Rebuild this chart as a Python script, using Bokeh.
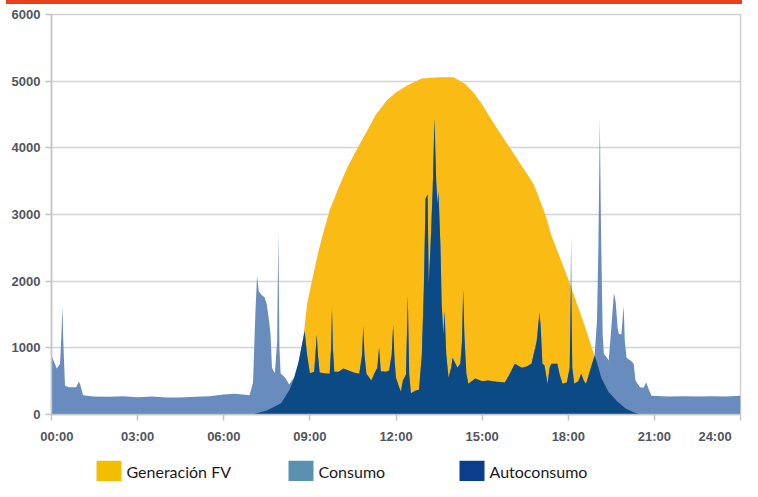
from bokeh.plotting import figure
from bokeh.models import FixedTicker, Div
from bokeh.core.properties import value
from bokeh.layouts import column
from bokeh.embed import file_html
from bokeh.resources import INLINE

# ---------------- data ----------------
hour_ticks = [0, 3, 6, 9, 12, 15, 18, 21, 24]
hour_labels = ["00:00", "03:00", "06:00", "09:00", "12:00", "15:00", "18:00", "21:00", "24:00"]
power_ticks = [0, 1000, 2000, 3000, 4000, 5000, 6000]
series_names = ["Generación FV", "Consumo", "Autoconsumo"]

# Generación FV (W) - hours / values
gen_t = [7.0, 7.5, 8.0, 8.3, 8.5, 8.65, 8.8, 8.9, 9.07, 9.3, 9.5, 9.7, 10.0, 10.3, 10.6,
         10.9, 11.3, 11.7, 12.0, 12.4, 12.9, 13.5, 14.0, 14.4, 14.7, 15.0, 15.5, 16.0,
         16.5, 16.8, 17.2, 17.4, 18.0, 18.5, 18.9, 19.15, 19.4, 19.7, 20.0, 20.3, 20.5]
gen_v = [0, 60, 170, 380, 600, 850, 1250, 1650, 2000, 2450, 2780, 3080, 3400, 3700, 3950,
         4180, 4500, 4720, 4830, 4940, 5040, 5060, 5060, 4960, 4830, 4650, 4300, 3980,
         3650, 3450, 3000, 2700, 2030, 1420, 900, 550, 340, 200, 90, 30, 0]

# Consumo (W)
cons_t = [0.0, 0.1, 0.18, 0.3, 0.35, 0.38, 0.41, 0.47, 0.6, 0.86, 0.95, 1.0, 1.1, 1.45,
          2.0, 2.5, 3.0, 3.5, 4.0, 4.5, 5.0, 5.5, 6.0, 6.4, 6.9, 7.02, 7.1, 7.16, 7.22,
          7.3, 7.42, 7.5, 7.58, 7.63, 7.68, 7.78, 7.86, 7.9, 7.94, 7.98, 8.14, 8.28, 8.45,
          8.6, 8.75, 8.82, 8.9, 9.0, 9.15, 9.21, 9.24, 9.28, 9.34, 9.5, 9.69, 9.74, 9.77,
          9.8, 9.85, 10.0, 10.17, 10.35, 10.52, 10.72, 10.82, 10.86, 10.9, 10.97, 11.14,
          11.25, 11.35, 11.41, 11.47, 11.65, 11.76, 11.85, 11.9, 11.95, 12.0, 12.1, 12.17,
          12.24, 12.35, 12.41, 12.46, 12.52, 12.69, 12.8, 12.9, 12.97, 13.03, 13.1, 13.14,
          13.2, 13.28, 13.34, 13.4, 13.45, 13.48, 13.55, 13.59, 13.65, 13.69, 13.75, 13.83,
          13.92, 13.97, 14.05, 14.14, 14.24, 14.3, 14.34, 14.38, 14.45, 14.52, 14.76, 15.0,
          15.2, 15.5, 15.79, 15.95, 16.14, 16.38, 16.55, 16.72, 16.9, 16.97, 17.0, 17.04,
          17.1, 17.17, 17.28, 17.35, 17.41, 17.62, 17.7, 17.8, 17.95, 18.05, 18.1, 18.14,
          18.21, 18.35, 18.45, 18.55, 18.62, 18.75, 18.83, 18.92, 19.0, 19.05, 19.1, 19.14,
          19.2, 19.24, 19.35, 19.41, 19.5, 19.59, 19.65, 19.72, 19.76, 19.85, 19.93, 19.97,
          20.03, 20.2, 20.28, 20.34, 20.5, 20.62, 20.72, 20.8, 20.9, 21.5, 22.0, 22.5, 23.0,
          23.5, 24.0]
cons_v = [880, 780, 690, 760, 1250, 1620, 1100, 430, 410, 410, 490, 450, 290, 270,
          265, 275, 260, 270, 255, 255, 265, 275, 300, 310, 290, 480, 1500, 2080, 1850,
          1800, 1760, 1650, 1400, 1200, 700, 620, 1100, 2720, 1000, 620, 550, 450, 560,
          780, 1100, 1260, 900, 620, 640, 1000, 1200, 900, 630, 620, 610, 1000, 1600,
          1000, 640, 640, 690, 660, 630, 610, 900, 1320, 900, 610, 510,
          620, 700, 1000, 650, 640, 660, 900, 1340, 800, 550, 420, 340,
          510, 600, 1780, 600, 320, 360, 370, 900, 1900, 3240, 3300, 1960,
          2500, 3400, 4440, 3500, 3150, 3350, 2500, 1660, 1200, 1550, 900, 550,
          700, 850, 780, 700, 760, 1100, 1880, 1200, 620, 460, 540, 500,
          510, 490, 480, 600, 760, 700, 720, 760, 1100, 1400, 1530, 1300,
          760, 740, 460, 700, 760, 760, 600, 460, 480, 700, 2680, 700,
          460, 500, 610, 500, 460, 650, 760, 900, 1400, 2500, 4440, 2800,
          1200, 910, 850, 810, 1300, 1820, 1700, 1300, 1210, 1200, 1630, 1100,
          850, 800, 760, 510, 410, 400, 480, 380, 280, 270, 275, 270, 275,
          270, 280]

# Autoconsumo (W)
auto_t = [7.0, 7.5, 8.0, 8.3, 8.45, 8.6, 8.75, 8.82, 8.9, 9.0, 9.15, 9.21, 9.24, 9.28,
          9.34, 9.5, 9.69, 9.74, 9.77, 9.8, 9.85, 10.0, 10.17, 10.35, 10.52, 10.72, 10.82,
          10.86, 10.9, 10.97, 11.14, 11.25, 11.35, 11.41, 11.47, 11.65, 11.76, 11.85, 11.9,
          11.95, 12.0, 12.1, 12.17, 12.24, 12.35, 12.41, 12.46, 12.52, 12.69, 12.8, 12.9,
          12.97, 13.03, 13.1, 13.14, 13.2, 13.28, 13.34, 13.4, 13.45, 13.48, 13.55, 13.59,
          13.65, 13.69, 13.75, 13.83, 13.92, 13.97, 14.05, 14.14, 14.24, 14.3, 14.34, 14.38,
          14.45, 14.52, 14.76, 15.0, 15.2, 15.5, 15.79, 15.95, 16.14, 16.38, 16.55, 16.72,
          16.9, 16.97, 17.0, 17.04, 17.1, 17.17, 17.28, 17.35, 17.41, 17.62, 17.7, 17.8,
          17.95, 18.05, 18.1, 18.14, 18.21, 18.35, 18.45, 18.55, 18.62, 18.75, 18.83, 18.92,
          19.0, 19.15, 19.4, 19.7, 20.0, 20.3, 20.5]
auto_v = [0, 60, 170, 380, 540, 770, 1100, 1250, 900, 620, 640, 1000, 1200, 900,
          630, 620, 610, 1000, 1600, 1000, 640, 640, 690, 660, 630, 610, 900,
          1320, 900, 610, 510, 620, 700, 1000, 650, 640, 660, 900, 1340,
          800, 550, 420, 340, 510, 600, 1780, 600, 320, 360, 370, 900,
          1900, 3240, 3300, 1960, 2500, 3400, 4440, 3500, 3150, 3350, 2500, 1660,
          1200, 1550, 900, 550, 700, 850, 780, 700, 760, 1100, 1880, 1200,
          620, 460, 540, 500, 510, 490, 480, 600, 760, 700, 720, 760,
          1100, 1400, 1530, 1300, 760, 740, 460, 700, 760, 760, 600, 460,
          480, 700, 1950, 700, 460, 500, 610, 500, 460, 650, 760, 880,
          780, 550, 340, 200, 90, 30, 0]

# ---------------- styling / layout ----------------
chart_colors = ["#FABB14", "#698CBE", "#0C4A86"]
legend_colors = ["#F2BE00", "#5A91AF", "#0A3E8A"]
accent_color = "#E8411C"
tick_font = "Liberation Sans"
tick_color = "#50565c"
W = 742
BORDER_L, BORDER_R = 51, 2
NBSP = "\u00a0"

# thin red band across the top
bar = Div(text="", width=W - 6, height=4, margin=(0, 0, 0, 6),
          styles={"background-color": accent_color})

# main chart
p = figure(width=W, height=456, x_range=(0, 24), y_range=(0, 6000),
           output_backend="svg", toolbar_location=None,
           min_border_left=BORDER_L, min_border_right=BORDER_R,
           min_border_top=10, min_border_bottom=46,
           background_fill_color="white", border_fill_color="white")

p.varea(x=gen_t, y1=0, y2=gen_v, fill_color=chart_colors[0])
p.varea(x=cons_t, y1=0, y2=cons_v, fill_color=chart_colors[1])
p.varea(x=auto_t, y1=0, y2=auto_v, fill_color=chart_colors[2])

p.xaxis.ticker = FixedTicker(ticks=hour_ticks)
overrides = {t: lab for t, lab in zip(hour_ticks, hour_labels)}
# first / last labels nudged inward (as in the original) so they stay inside
overrides[hour_ticks[0]] = NBSP * 3 + hour_labels[0]
overrides[hour_ticks[-1]] = hour_labels[-1] + NBSP * 3
p.xaxis.major_label_overrides = overrides
p.yaxis.ticker = FixedTicker(ticks=power_ticks)
for ax in (p.xaxis[0], p.yaxis[0]):
    ax.axis_line_color = "#c4c4c4"
    ax.axis_line_width = 1.5
    ax.major_tick_line_color = "#c4c4c4"
    ax.major_tick_line_width = 1.5
    ax.major_tick_out = 6
    ax.major_tick_in = 0
    ax.minor_tick_line_color = None
    ax.major_label_text_font = tick_font
    ax.major_label_text_font_style = "bold"
    ax.major_label_text_font_size = "13px"
    ax.major_label_text_color = tick_color
p.xaxis.major_label_standoff = 8
p.yaxis.major_label_standoff = 5

p.xgrid.visible = False
p.ygrid.ticker = FixedTicker(ticks=power_ticks)
p.ygrid.grid_line_color = "#d4d4d4"
p.ygrid.grid_line_width = 1.5
p.outline_line_color = "#d0d0d0"
p.outline_line_width = 1.5

# legend strip (pixel coordinates across the page width)
LEG_H = 21
lg_fig = figure(width=W, height=LEG_H, x_range=(BORDER_L, W - BORDER_R), y_range=(0, LEG_H),
                output_backend="svg", toolbar_location=None,
                x_axis_type=None, y_axis_type=None,
                min_border_left=BORDER_L, min_border_right=BORDER_R,
                min_border_top=0, min_border_bottom=0,
                outline_line_color=None, background_fill_color="white",
                border_fill_color="white")
lg_fig.grid.visible = False
swatch_left = [96, 288, 459]
swatch_w = 25
text_gap = 5
lg_fig.quad(left=swatch_left, right=[s + swatch_w for s in swatch_left],
            bottom=0, top=LEG_H, fill_color=legend_colors, line_color=None)
lg_fig.text(x=[s + swatch_w + text_gap for s in swatch_left], y=LEG_H / 2,
            text=series_names, text_font=value("Lato"), text_font_size="16px",
            text_color="#1a1a1a", text_baseline="middle", text_align="left")

layout = column(bar, p, lg_fig, spacing=0)
open("out.html", "w").write(file_html(layout, INLINE))
